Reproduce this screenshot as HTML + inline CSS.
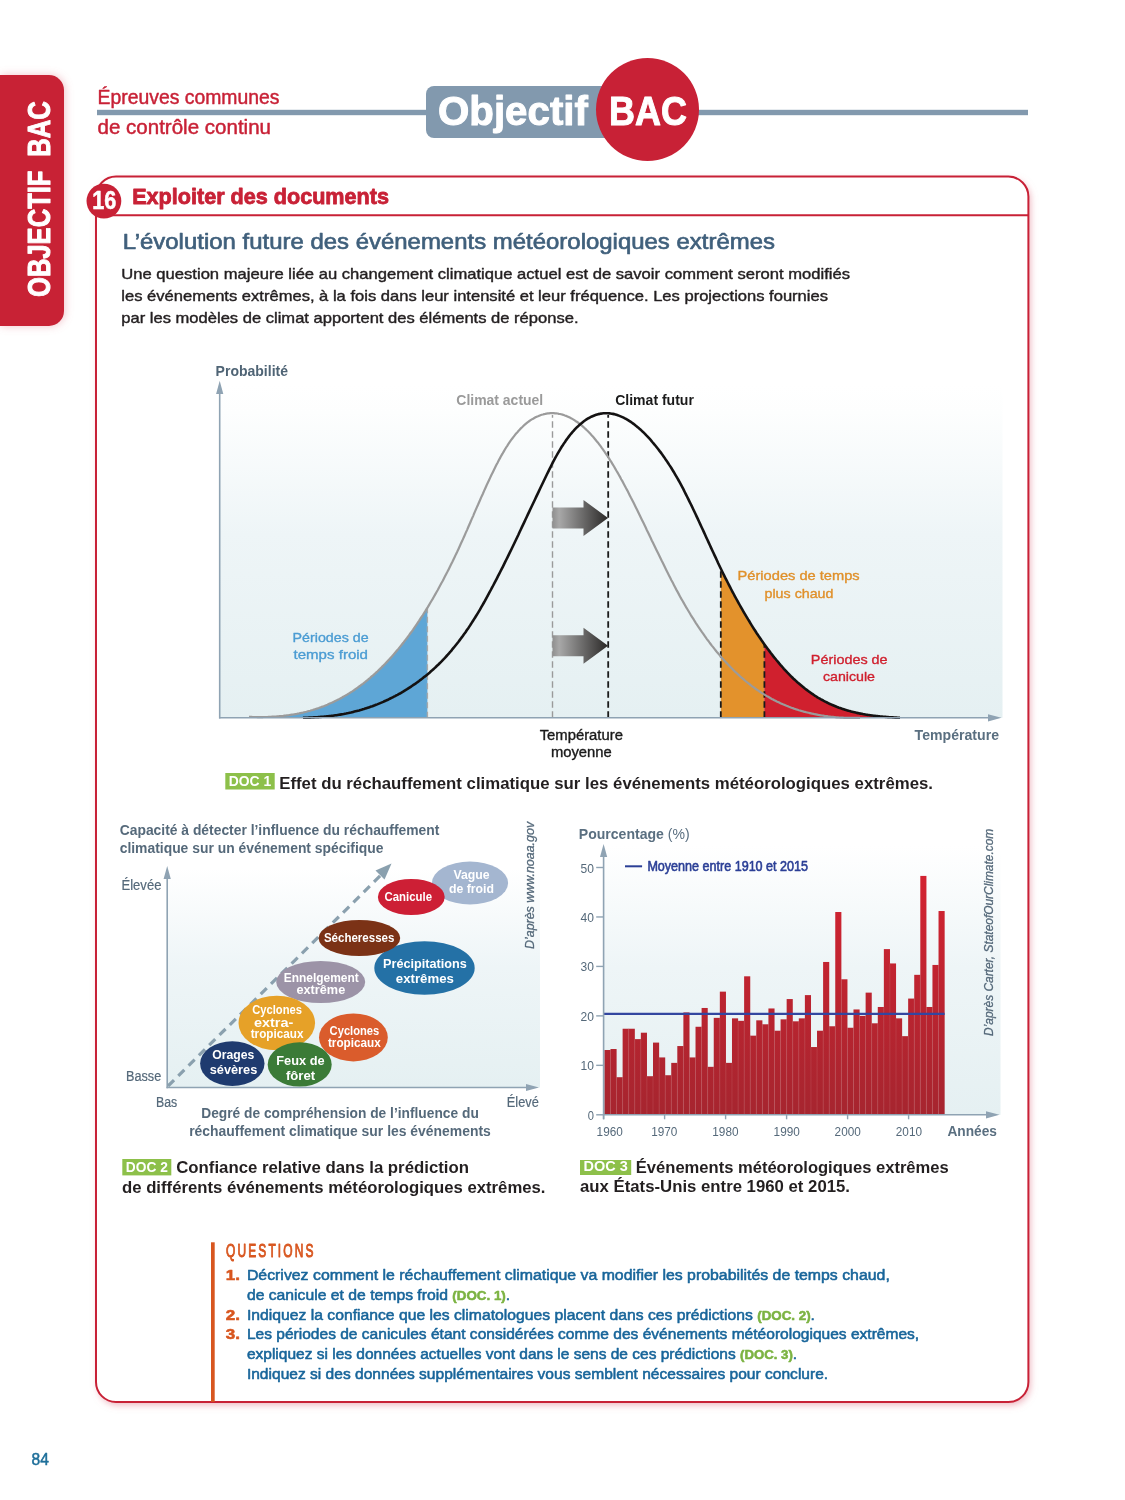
<!DOCTYPE html>
<html lang="fr"><head><meta charset="utf-8"><title>Objectif BAC - Exploiter des documents</title>
<style>
html,body{margin:0;padding:0;background:#fff;}
body{width:1125px;height:1500px;overflow:hidden;position:relative;font-family:"Liberation Sans",sans-serif;}
svg{position:absolute;left:0;top:0;display:block;will-change:transform;}
svg text{font-kerning:normal;}
</style></head><body>
<svg width="1125" height="1500" viewBox="0 0 1125 1500" font-family="Liberation Sans, sans-serif">
<defs>
<filter id="psh" x="-10%" y="-10%" width="120%" height="120%"><feDropShadow dx="2" dy="3" stdDeviation="3.5" flood-color="#e07888" flood-opacity="0.55"/></filter>
<filter id="tsh" x="-30%" y="-10%" width="160%" height="120%"><feDropShadow dx="1" dy="0" stdDeviation="4" flood-color="#e07888" flood-opacity="0.45"/></filter>
<linearGradient id="bg1" x1="0" y1="0" x2="0" y2="1"><stop offset="0" stop-color="#ffffff"/><stop offset="0.08" stop-color="#fdfefe"/><stop offset="0.45" stop-color="#eef5f7"/><stop offset="1" stop-color="#e5f0f2"/></linearGradient>
<linearGradient id="bg2" x1="0" y1="0" x2="0" y2="1"><stop offset="0" stop-color="#ffffff"/><stop offset="0.45" stop-color="#eef5f7"/><stop offset="1" stop-color="#e5f0f2"/></linearGradient>
<linearGradient id="bg3" x1="0" y1="0" x2="0" y2="1"><stop offset="0" stop-color="#ffffff"/><stop offset="0.45" stop-color="#eef5f7"/><stop offset="1" stop-color="#e5f0f2"/></linearGradient>
<linearGradient id="arr" x1="0" y1="0" x2="1" y2="0"><stop offset="0" stop-color="#8f8f8f"/><stop offset="0.12" stop-color="#a8a8a8"/><stop offset="1" stop-color="#2a2827"/></linearGradient>
<linearGradient id="bar" gradientUnits="userSpaceOnUse" x1="0" y1="870" x2="0" y2="1115"><stop offset="0" stop-color="#d42331"/><stop offset="1" stop-color="#a6252f"/></linearGradient>
</defs>
<path d="M0 75 H49 a15 15 0 0 1 15 15 V311 a15 15 0 0 1 -15 15 H0 Z" fill="#c82136" filter="url(#tsh)"/>
<g transform="translate(49.6 297) rotate(-90)"><text x="0" y="0" font-size="31.5" textLength="126.5" lengthAdjust="spacingAndGlyphs" font-weight="bold" fill="#fff" stroke="#fff" stroke-width="1" stroke-linejoin="round">OBJECTIF</text></g>
<g transform="translate(49.6 156.7) rotate(-90)"><text x="0" y="0" font-size="31.5" textLength="55.49" lengthAdjust="spacingAndGlyphs" font-weight="bold" fill="#fff" stroke="#fff" stroke-width="1" stroke-linejoin="round">BAC</text></g>
<rect x="97" y="109.8" width="931" height="5.4" fill="#8299ae"/>
<rect x="426" y="86" width="200" height="52" rx="8" fill="#8299ae"/>
<circle cx="647.5" cy="109.5" r="51.5" fill="#c82136"/>
<text x="97.5" y="103.8" font-size="20" textLength="182" lengthAdjust="spacingAndGlyphs" font-weight="normal" fill="#c82136" stroke="#c82136" stroke-width="0.45" stroke-linejoin="round">Épreuves communes</text>
<text x="97.5" y="134.1" font-size="20" textLength="173.5" lengthAdjust="spacingAndGlyphs" font-weight="normal" fill="#c82136" stroke="#c82136" stroke-width="0.45" stroke-linejoin="round">de contrôle continu</text>
<text x="438" y="125" font-size="40.5" textLength="149.91" lengthAdjust="spacingAndGlyphs" font-weight="bold" fill="#fff" stroke="#fff" stroke-width="1" stroke-linejoin="round">Objectif</text>
<text x="609" y="125.2" font-size="41.5" textLength="77.98" lengthAdjust="spacingAndGlyphs" font-weight="bold" fill="#fff" stroke="#fff" stroke-width="1" stroke-linejoin="round">BAC</text>
<rect x="96" y="176.6" width="932.4" height="1225.4" rx="20" fill="#fff" filter="url(#psh)"/>
<rect x="96" y="176.6" width="932.4" height="1225.4" rx="20" fill="none" stroke="#c82136" stroke-width="2"/>
<line x1="104" y1="215.3" x2="1028" y2="215.3" stroke="#c82136" stroke-width="2"/>
<circle cx="103.9" cy="201.1" r="17.4" fill="#c82136"/>
<text x="92.2" y="208.7" font-size="26" textLength="24.01" lengthAdjust="spacingAndGlyphs" font-weight="bold" fill="#fff" stroke="#fff" stroke-width="0.6" stroke-linejoin="round">16</text>
<text x="132.2" y="203.8" font-size="21.4" textLength="256.79" lengthAdjust="spacingAndGlyphs" font-weight="bold" fill="#c82136" stroke="#c82136" stroke-width="0.8" stroke-linejoin="round">Exploiter des documents</text>
<text x="122.7" y="249.4" font-size="21.4" textLength="652.31" lengthAdjust="spacingAndGlyphs" font-weight="normal" fill="#40607c" stroke="#40607c" stroke-width="0.65" stroke-linejoin="round">L’évolution future des événements météorologiques extrêmes</text>
<text x="121.3" y="279.3" font-size="14.6" textLength="728.71" lengthAdjust="spacingAndGlyphs" font-weight="normal" fill="#231f20" stroke="#231f20" stroke-width="0.4" stroke-linejoin="round">Une question majeure liée au changement climatique actuel est de savoir comment seront modifiés</text>
<text x="121.3" y="301" font-size="14.6" textLength="706.7" lengthAdjust="spacingAndGlyphs" font-weight="normal" fill="#231f20" stroke="#231f20" stroke-width="0.4" stroke-linejoin="round">les événements extrêmes, à la fois dans leur intensité et leur fréquence. Les projections fournies</text>
<text x="121.3" y="323" font-size="14.6" textLength="457.2" lengthAdjust="spacingAndGlyphs" font-weight="normal" fill="#231f20" stroke="#231f20" stroke-width="0.4" stroke-linejoin="round">par les modèles de climat apportent des éléments de réponse.</text>
<rect x="220" y="385" width="782.5" height="332.8" fill="url(#bg1)"/>
<polygon points="249,717.8 249.0,716.9 249.9,716.9 250.8,716.9 251.7,716.9 252.6,717.0 253.5,717.0 254.4,717.0 255.3,717.0 256.2,717.0 257.1,717.0 258.0,717.1 258.9,717.1 259.8,717.1 260.7,717.1 261.6,717.1 262.4,717.1 263.3,717.0 264.2,717.0 265.1,717.0 266.0,717.0 266.9,717.0 267.8,716.9 268.7,716.9 269.6,716.9 270.5,716.8 271.4,716.8 272.3,716.7 273.2,716.7 274.1,716.6 275.0,716.6 275.9,716.5 276.8,716.5 277.7,716.4 278.6,716.3 279.5,716.2 280.4,716.2 281.3,716.1 282.2,716.0 283.1,715.9 284.0,715.8 284.9,715.7 285.8,715.6 286.7,715.5 287.5,715.3 288.4,715.2 289.3,715.1 290.2,715.0 291.1,714.8 292.0,714.7 292.9,714.5 293.8,714.4 294.7,714.2 295.6,714.1 296.5,713.9 297.4,713.7 298.3,713.5 299.2,713.4 300.1,713.2 301.0,713.0 301.9,712.8 302.8,712.6 303.7,712.4 304.6,712.2 305.5,711.9 306.4,711.7 307.3,711.5 308.2,711.2 309.1,711.0 310.0,710.8 310.9,710.5 311.8,710.2 312.7,710.0 313.5,709.7 314.4,709.4 315.3,709.1 316.2,708.8 317.1,708.5 318.0,708.2 318.9,707.9 319.8,707.6 320.7,707.3 321.6,706.9 322.5,706.6 323.4,706.3 324.3,705.9 325.2,705.6 326.1,705.2 327.0,704.8 327.9,704.4 328.8,704.1 329.7,703.7 330.6,703.3 331.5,702.9 332.4,702.5 333.3,702.0 334.2,701.6 335.1,701.2 336.0,700.7 336.9,700.3 337.8,699.8 338.6,699.4 339.5,698.9 340.4,698.4 341.3,697.9 342.2,697.4 343.1,696.9 344.0,696.4 344.9,695.9 345.8,695.4 346.7,694.8 347.6,694.3 348.5,693.7 349.4,693.2 350.3,692.6 351.2,692.0 352.1,691.5 353.0,690.9 353.9,690.3 354.8,689.7 355.7,689.0 356.6,688.4 357.5,687.8 358.4,687.1 359.3,686.5 360.2,685.8 361.1,685.2 362.0,684.5 362.9,683.8 363.7,683.1 364.6,682.4 365.5,681.7 366.4,681.0 367.3,680.2 368.2,679.5 369.1,678.7 370.0,678.0 370.9,677.2 371.8,676.4 372.7,675.6 373.6,674.8 374.5,674.0 375.4,673.2 376.3,672.4 377.2,671.6 378.1,670.7 379.0,669.9 379.9,669.0 380.8,668.1 381.7,667.2 382.6,666.3 383.5,665.4 384.4,664.5 385.3,663.6 386.2,662.7 387.1,661.7 388.0,660.8 388.9,659.8 389.7,658.8 390.6,657.8 391.5,656.8 392.4,655.8 393.3,654.8 394.2,653.8 395.1,652.7 396.0,651.7 396.9,650.6 397.8,649.5 398.7,648.5 399.6,647.4 400.5,646.3 401.4,645.1 402.3,644.0 403.2,642.9 404.1,641.7 405.0,640.6 405.9,639.4 406.8,638.2 407.7,637.0 408.6,635.8 409.5,634.6 410.4,633.4 411.3,632.1 412.2,630.9 413.1,629.6 414.0,628.3 414.8,627.0 415.7,625.7 416.6,624.4 417.5,623.1 418.4,621.8 419.3,620.4 420.2,619.0 421.1,617.7 422.0,616.3 422.9,614.9 423.8,613.5 424.7,612.1 425.6,610.6 426.5,609.2 427.4,607.7 427.4,717.8" fill="#5ea6d6"/>
<polygon points="720.8,717.8 720.8,568.6 721.4,569.7 721.9,570.8 722.5,572.0 723.0,573.1 723.6,574.2 724.1,575.3 724.7,576.4 725.2,577.6 725.8,578.7 726.3,579.8 726.9,580.8 727.4,581.9 728.0,583.0 728.5,584.1 729.1,585.2 729.6,586.2 730.2,587.3 730.7,588.4 731.3,589.4 731.8,590.5 732.4,591.5 732.9,592.6 733.5,593.6 734.0,594.6 734.6,595.6 735.1,596.7 735.7,597.7 736.2,598.7 736.8,599.7 737.3,600.7 737.9,601.7 738.4,602.7 739.0,603.7 739.5,604.7 740.1,605.7 740.6,606.6 741.2,607.6 741.7,608.6 742.3,609.5 742.8,610.5 743.4,611.4 743.9,612.4 744.5,613.3 745.0,614.3 745.6,615.2 746.1,616.1 746.7,617.1 747.2,618.0 747.8,618.9 748.3,619.8 748.9,620.7 749.4,621.6 750.0,622.5 750.5,623.4 751.1,624.3 751.6,625.2 752.2,626.0 752.7,626.9 753.3,627.8 753.8,628.7 754.4,629.5 754.9,630.4 755.5,631.2 756.0,632.1 756.6,632.9 757.1,633.7 757.7,634.6 758.2,635.4 758.8,636.2 759.3,637.0 759.9,637.8 760.4,638.7 761.0,639.5 761.5,640.3 762.1,641.1 762.6,641.8 763.2,642.6 763.7,643.4 764.3,644.2 764.3,717.8" fill="#e3922c"/>
<polygon points="764.3,717.8 764.3,644.2 765.2,645.5 766.1,646.7 767.0,648.0 767.9,649.2 768.9,650.4 769.8,651.6 770.7,652.8 771.6,654.0 772.5,655.2 773.4,656.3 774.3,657.5 775.2,658.6 776.1,659.7 777.1,660.8 778.0,661.9 778.9,663.0 779.8,664.1 780.7,665.1 781.6,666.2 782.5,667.2 783.4,668.2 784.3,669.2 785.2,670.2 786.2,671.2 787.1,672.2 788.0,673.1 788.9,674.1 789.8,675.0 790.7,675.9 791.6,676.8 792.5,677.7 793.4,678.6 794.4,679.4 795.3,680.3 796.2,681.1 797.1,682.0 798.0,682.8 798.9,683.6 799.8,684.4 800.7,685.1 801.6,685.9 802.6,686.7 803.5,687.4 804.4,688.1 805.3,688.8 806.2,689.5 807.1,690.2 808.0,690.9 808.9,691.6 809.8,692.2 810.7,692.9 811.7,693.5 812.6,694.1 813.5,694.7 814.4,695.3 815.3,695.9 816.2,696.5 817.1,697.1 818.0,697.6 818.9,698.1 819.9,698.7 820.8,699.2 821.7,699.7 822.6,700.2 823.5,700.7 824.4,701.2 825.3,701.7 826.2,702.1 827.1,702.6 828.1,703.0 829.0,703.5 829.9,703.9 830.8,704.3 831.7,704.7 832.6,705.1 833.5,705.5 834.4,705.9 835.3,706.3 836.2,706.6 837.2,707.0 838.1,707.3 839.0,707.7 839.9,708.0 840.8,708.3 841.7,708.6 842.6,708.9 843.5,709.2 844.4,709.5 845.4,709.8 846.3,710.1 847.2,710.4 848.1,710.6 849.0,710.9 849.9,711.1 850.8,711.4 851.7,711.6 852.6,711.9 853.6,712.1 854.5,712.3 855.4,712.5 856.3,712.7 857.2,712.9 858.1,713.1 859.0,713.3 859.9,713.5 860.8,713.7 861.7,713.8 862.7,714.0 863.6,714.2 864.5,714.3 865.4,714.5 866.3,714.6 867.2,714.8 868.1,714.9 869.0,715.1 869.9,715.2 870.9,715.3 871.8,715.4 872.7,715.6 873.6,715.7 874.5,715.8 875.4,715.9 876.3,716.0 877.2,716.1 878.1,716.2 879.1,716.3 880.0,716.4 880.9,716.5 881.8,716.6 882.7,716.6 883.6,716.7 884.5,716.8 885.4,716.9 886.3,717.0 887.2,717.0 888.2,717.1 889.1,717.2 890.0,717.2 890.9,717.3 891.8,717.4 892.7,717.4 893.6,717.5 894.5,717.5 895.4,717.6 896.4,717.6 897.3,717.7 898.2,717.8 899.1,717.8 900.0,717.8 900,717.8" fill="#d0202e"/>
<line x1="427.4" y1="717.8" x2="427.4" y2="607.71" stroke="#a9a9a9" stroke-width="1.4" stroke-dasharray="6 3.5"/>
<line x1="552.5" y1="717.8" x2="552.5" y2="415" stroke="#9a9a9a" stroke-width="1.4" stroke-dasharray="6.5 3.5"/>
<line x1="608.2" y1="717.8" x2="608.2" y2="415" stroke="#1a1a1a" stroke-width="1.8" stroke-dasharray="6.5 3.5"/>
<line x1="720.8" y1="717.8" x2="720.8" y2="568.58" stroke="#1a1a1a" stroke-width="1.8" stroke-dasharray="6.5 3.5"/>
<line x1="764.4" y1="717.8" x2="764.4" y2="644.32" stroke="#1a1a1a" stroke-width="1.8" stroke-dasharray="6.5 3.5"/>
<polyline points="249.0,716.9 250.2,716.9 251.4,716.9 252.7,717.0 253.9,717.0 255.1,717.0 256.3,717.0 257.6,717.1 258.8,717.1 260.0,717.1 261.2,717.1 262.5,717.1 263.7,717.0 264.9,717.0 266.1,717.0 267.4,717.0 268.6,716.9 269.8,716.9 271.0,716.8 272.3,716.7 273.5,716.7 274.7,716.6 275.9,716.5 277.2,716.4 278.4,716.3 279.6,716.2 280.8,716.1 282.1,716.0 283.3,715.9 284.5,715.7 285.7,715.6 287.0,715.4 288.2,715.3 289.4,715.1 290.6,714.9 291.9,714.7 293.1,714.5 294.3,714.3 295.5,714.1 296.8,713.9 298.0,713.6 299.2,713.4 300.4,713.1 301.7,712.8 302.9,712.6 304.1,712.3 305.3,712.0 306.5,711.7 307.8,711.3 309.0,711.0 310.2,710.7 311.4,710.3 312.7,710.0 313.9,709.6 315.1,709.2 316.3,708.8 317.6,708.4 318.8,708.0 320.0,707.5 321.2,707.1 322.5,706.6 323.7,706.2 324.9,705.7 326.1,705.2 327.4,704.7 328.6,704.1 329.8,703.6 331.0,703.1 332.3,702.5 333.5,701.9 334.7,701.3 335.9,700.7 337.2,700.1 338.4,699.5 339.6,698.9 340.8,698.2 342.1,697.5 343.3,696.8 344.5,696.1 345.7,695.4 347.0,694.7 348.2,693.9 349.4,693.2 350.6,692.4 351.9,691.6 353.1,690.8 354.3,690.0 355.5,689.1 356.8,688.3 358.0,687.4 359.2,686.5 360.4,685.6 361.6,684.7 362.9,683.8 364.1,682.8 365.3,681.9 366.5,680.9 367.8,679.9 369.0,678.8 370.2,677.8 371.4,676.7 372.7,675.7 373.9,674.6 375.1,673.5 376.3,672.4 377.6,671.2 378.8,670.0 380.0,668.9 381.2,667.7 382.5,666.4 383.7,665.2 384.9,664.0 386.1,662.7 387.4,661.4 388.6,660.1 389.8,658.7 391.0,657.4 392.3,656.0 393.5,654.6 394.7,653.2 395.9,651.8 397.2,650.3 398.4,648.9 399.6,647.4 400.8,645.9 402.1,644.3 403.3,642.8 404.5,641.2 405.7,639.6 407.0,638.0 408.2,636.3 409.4,634.7 410.6,633.0 411.9,631.3 413.1,629.6 414.3,627.8 415.5,626.0 416.7,624.3 418.0,622.4 419.2,620.6 420.4,618.7 421.6,616.9 422.9,615.0 424.1,613.0 425.3,611.1 426.5,609.1 427.8,607.1 429.0,605.1 430.2,603.0 431.4,601.0 432.7,598.9 433.9,596.8 435.1,594.6 436.3,592.5 437.6,590.3 438.8,588.0 440.0,585.8 441.2,583.5 442.5,581.3 443.7,578.9 444.9,576.6 446.1,574.2 447.4,571.8 448.6,569.4 449.8,567.0 451.0,564.5 452.3,562.0 453.5,559.5 454.7,557.0 455.9,554.4 457.2,551.8 458.4,549.2 459.6,546.5 460.8,543.8 462.1,541.1 463.3,538.4 464.5,535.7 465.7,532.9 467.0,530.1 468.2,527.3 469.4,524.5 470.6,521.7 471.8,518.9 473.1,516.1 474.3,513.2 475.5,510.4 476.7,507.6 478.0,504.8 479.2,502.0 480.4,499.2 481.6,496.4 482.9,493.7 484.1,490.9 485.3,488.2 486.5,485.5 487.8,482.8 489.0,480.2 490.2,477.6 491.4,475.0 492.7,472.4 493.9,469.9 495.1,467.5 496.3,465.1 497.6,462.7 498.8,460.3 500.0,458.1 501.2,455.8 502.5,453.7 503.7,451.6 504.9,449.5 506.1,447.5 507.4,445.6 508.6,443.7 509.8,441.9 511.0,440.2 512.3,438.5 513.5,436.9 514.7,435.3 515.9,433.8 517.2,432.4 518.4,431.0 519.6,429.7 520.8,428.4 522.1,427.2 523.3,426.0 524.5,424.9 525.7,423.9 526.9,422.9 528.2,421.9 529.4,421.0 530.6,420.2 531.8,419.4 533.1,418.7 534.3,418.0 535.5,417.3 536.7,416.7 538.0,416.2 539.2,415.7 540.4,415.2 541.6,414.8 542.9,414.5 544.1,414.1 545.3,413.9 546.5,413.6 547.8,413.4 549.0,413.3 550.2,413.2 551.4,413.2 552.7,413.1 553.9,413.2 555.1,413.3 556.3,413.4 557.6,413.5 558.8,413.8 560.0,414.0 561.2,414.3 562.5,414.6 563.7,415.0 564.9,415.5 566.1,415.9 567.4,416.4 568.6,417.0 569.8,417.6 571.0,418.2 572.3,418.9 573.5,419.6 574.7,420.4 575.9,421.2 577.2,422.0 578.4,422.9 579.6,423.9 580.8,424.8 582.1,425.9 583.3,426.9 584.5,428.0 585.7,429.1 586.9,430.3 588.2,431.5 589.4,432.8 590.6,434.1 591.8,435.4 593.1,436.8 594.3,438.2 595.5,439.7 596.7,441.2 598.0,442.7 599.2,444.3 600.4,445.9 601.6,447.6 602.9,449.3 604.1,451.0 605.3,452.8 606.5,454.6 607.8,456.5 609.0,458.4 610.2,460.3 611.4,462.2 612.7,464.3 613.9,466.3 615.1,468.4 616.3,470.5 617.6,472.6 618.8,474.7 620.0,476.9 621.2,479.2 622.5,481.4 623.7,483.7 624.9,486.0 626.1,488.3 627.4,490.6 628.6,493.0 629.8,495.4 631.0,497.8 632.3,500.2 633.5,502.6 634.7,505.1 635.9,507.5 637.2,510.0 638.4,512.5 639.6,515.0 640.8,517.5 642.0,520.0 643.3,522.6 644.5,525.1 645.7,527.6 646.9,530.2 648.2,532.7 649.4,535.3 650.6,537.8 651.8,540.4 653.1,542.9 654.3,545.4 655.5,548.0 656.7,550.5 658.0,553.1 659.2,555.6 660.4,558.1 661.6,560.6 662.9,563.1 664.1,565.6 665.3,568.1 666.5,570.5 667.8,573.0 669.0,575.4 670.2,577.8 671.4,580.2 672.7,582.6 673.9,584.9 675.1,587.3 676.3,589.6 677.6,591.9 678.8,594.1 680.0,596.4 681.2,598.6 682.5,600.8 683.7,602.9 684.9,605.0 686.1,607.1 687.4,609.2 688.6,611.3 689.8,613.3 691.0,615.3 692.3,617.3 693.5,619.2 694.7,621.2 695.9,623.1 697.1,624.9 698.4,626.8 699.6,628.6 700.8,630.4 702.0,632.2 703.3,633.9 704.5,635.7 705.7,637.4 706.9,639.1 708.2,640.7 709.4,642.4 710.6,644.0 711.8,645.6 713.1,647.1 714.3,648.7 715.5,650.2 716.7,651.7 718.0,653.2 719.2,654.6 720.4,656.1 721.6,657.5 722.9,658.9 724.1,660.2 725.3,661.6 726.5,662.9 727.8,664.2 729.0,665.5 730.2,666.8 731.4,668.0 732.7,669.3 733.9,670.5 735.1,671.7 736.3,672.8 737.6,674.0 738.8,675.1 740.0,676.2 741.2,677.3 742.5,678.4 743.7,679.4 744.9,680.5 746.1,681.5 747.4,682.5 748.6,683.5 749.8,684.4 751.0,685.4 752.2,686.3 753.5,687.2 754.7,688.1 755.9,689.0 757.1,689.8 758.4,690.7 759.6,691.5 760.8,692.3 762.0,693.1 763.3,693.9 764.5,694.6 765.7,695.4 766.9,696.1 768.2,696.8 769.4,697.5 770.6,698.2 771.8,698.9 773.1,699.5 774.3,700.2 775.5,700.8 776.7,701.4 778.0,702.0 779.2,702.6 780.4,703.2 781.6,703.7 782.9,704.3 784.1,704.8 785.3,705.3 786.5,705.8 787.8,706.3 789.0,706.8 790.2,707.2 791.4,707.7 792.7,708.1 793.9,708.6 795.1,709.0 796.3,709.4 797.6,709.8 798.8,710.2 800.0,710.5 801.2,710.9 802.5,711.2 803.7,711.6 804.9,711.9 806.1,712.2 807.3,712.5 808.6,712.8 809.8,713.1 811.0,713.4 812.2,713.7 813.5,713.9 814.7,714.2 815.9,714.4 817.1,714.6 818.4,714.9 819.6,715.1 820.8,715.3 822.0,715.5 823.3,715.7 824.5,715.9 825.7,716.0 826.9,716.2 828.2,716.4 829.4,716.5 830.6,716.7 831.8,716.8 833.1,716.9 834.3,717.0 835.5,717.2 836.7,717.3 838.0,717.4 839.2,717.5 840.4,717.6 841.6,717.7 842.9,717.7 844.1,717.8 845.3,717.8 846.5,717.8 847.8,717.8 849.0,717.8 850.2,717.8 851.4,717.8 852.7,717.8 853.9,717.8 855.1,717.8 856.3,717.8 857.6,717.8 858.8,717.8 860.0,717.8" fill="none" stroke="#9b9b9b" stroke-width="2.2"/>
<polyline points="303.0,717.8 304.2,717.7 305.4,717.7 306.6,717.7 307.8,717.7 309.0,717.6 310.2,717.6 311.4,717.5 312.6,717.5 313.8,717.4 315.0,717.3 316.2,717.3 317.4,717.2 318.6,717.1 319.7,717.0 320.9,716.9 322.1,716.8 323.3,716.7 324.5,716.6 325.7,716.5 326.9,716.4 328.1,716.3 329.3,716.1 330.5,716.0 331.7,715.8 332.9,715.7 334.1,715.5 335.3,715.3 336.5,715.2 337.7,715.0 338.9,714.8 340.1,714.6 341.3,714.4 342.5,714.2 343.7,714.0 344.9,713.7 346.1,713.5 347.3,713.2 348.5,713.0 349.7,712.7 350.9,712.5 352.1,712.2 353.2,711.9 354.4,711.6 355.6,711.3 356.8,711.0 358.0,710.7 359.2,710.4 360.4,710.0 361.6,709.7 362.8,709.3 364.0,709.0 365.2,708.6 366.4,708.2 367.6,707.8 368.8,707.4 370.0,707.0 371.2,706.6 372.4,706.2 373.6,705.7 374.8,705.3 376.0,704.8 377.2,704.4 378.4,703.9 379.6,703.4 380.8,702.9 382.0,702.4 383.2,701.9 384.4,701.3 385.6,700.8 386.7,700.2 387.9,699.7 389.1,699.1 390.3,698.5 391.5,697.9 392.7,697.3 393.9,696.7 395.1,696.1 396.3,695.4 397.5,694.8 398.7,694.1 399.9,693.5 401.1,692.8 402.3,692.1 403.5,691.4 404.7,690.6 405.9,689.9 407.1,689.2 408.3,688.4 409.5,687.6 410.7,686.8 411.9,686.0 413.1,685.2 414.3,684.4 415.5,683.6 416.7,682.7 417.9,681.9 419.1,681.0 420.2,680.1 421.4,679.2 422.6,678.3 423.8,677.3 425.0,676.4 426.2,675.4 427.4,674.4 428.6,673.4 429.8,672.4 431.0,671.3 432.2,670.3 433.4,669.2 434.6,668.1 435.8,667.0 437.0,665.8 438.2,664.7 439.4,663.5 440.6,662.3 441.8,661.1 443.0,659.8 444.2,658.6 445.4,657.3 446.6,656.0 447.8,654.7 449.0,653.3 450.2,652.0 451.4,650.6 452.5,649.1 453.7,647.7 454.9,646.2 456.1,644.7 457.3,643.2 458.5,641.7 459.7,640.1 460.9,638.5 462.1,636.9 463.3,635.2 464.5,633.6 465.7,631.9 466.9,630.1 468.1,628.4 469.3,626.6 470.5,624.8 471.7,622.9 472.9,621.0 474.1,619.1 475.3,617.2 476.5,615.3 477.7,613.3 478.9,611.3 480.1,609.3 481.3,607.2 482.5,605.1 483.7,603.0 484.9,600.9 486.0,598.8 487.2,596.6 488.4,594.4 489.6,592.2 490.8,590.0 492.0,587.7 493.2,585.5 494.4,583.2 495.6,580.9 496.8,578.6 498.0,576.2 499.2,573.9 500.4,571.5 501.6,569.2 502.8,566.8 504.0,564.4 505.2,561.9 506.4,559.5 507.6,557.1 508.8,554.6 510.0,552.2 511.2,549.7 512.4,547.2 513.6,544.7 514.8,542.2 516.0,539.7 517.2,537.2 518.4,534.7 519.5,532.2 520.7,529.7 521.9,527.1 523.1,524.6 524.3,522.1 525.5,519.5 526.7,517.0 527.9,514.4 529.1,511.9 530.3,509.3 531.5,506.8 532.7,504.3 533.9,501.7 535.1,499.2 536.3,496.6 537.5,494.1 538.7,491.6 539.9,489.0 541.1,486.5 542.3,484.0 543.5,481.5 544.7,479.0 545.9,476.5 547.1,474.0 548.3,471.6 549.5,469.2 550.7,466.8 551.8,464.5 553.0,462.1 554.2,459.9 555.4,457.7 556.6,455.5 557.8,453.4 559.0,451.3 560.2,449.3 561.4,447.3 562.6,445.5 563.8,443.6 565.0,441.9 566.2,440.1 567.4,438.5 568.6,436.9 569.8,435.3 571.0,433.8 572.2,432.4 573.4,431.0 574.6,429.7 575.8,428.4 577.0,427.2 578.2,426.1 579.4,425.0 580.6,423.9 581.8,422.9 583.0,421.9 584.2,421.0 585.3,420.2 586.5,419.4 587.7,418.6 588.9,418.0 590.1,417.3 591.3,416.7 592.5,416.2 593.7,415.7 594.9,415.2 596.1,414.8 597.3,414.4 598.5,414.1 599.7,413.9 600.9,413.6 602.1,413.5 603.3,413.3 604.5,413.3 605.7,413.2 606.9,413.2 608.1,413.3 609.3,413.4 610.5,413.5 611.7,413.7 612.9,413.9 614.1,414.1 615.3,414.4 616.5,414.8 617.7,415.2 618.8,415.6 620.0,416.1 621.2,416.6 622.4,417.1 623.6,417.7 624.8,418.3 626.0,418.9 627.2,419.6 628.4,420.3 629.6,421.1 630.8,421.9 632.0,422.7 633.2,423.6 634.4,424.5 635.6,425.5 636.8,426.4 638.0,427.4 639.2,428.5 640.4,429.5 641.6,430.6 642.8,431.8 644.0,432.9 645.2,434.1 646.4,435.4 647.6,436.6 648.8,437.9 650.0,439.2 651.2,440.6 652.3,442.0 653.5,443.4 654.7,444.8 655.9,446.3 657.1,447.8 658.3,449.3 659.5,450.9 660.7,452.4 661.9,454.1 663.1,455.7 664.3,457.4 665.5,459.2 666.7,460.9 667.9,462.7 669.1,464.6 670.3,466.4 671.5,468.3 672.7,470.3 673.9,472.2 675.1,474.3 676.3,476.3 677.5,478.4 678.7,480.5 679.9,482.7 681.1,484.9 682.3,487.1 683.5,489.4 684.6,491.7 685.8,494.1 687.0,496.5 688.2,498.9 689.4,501.3 690.6,503.8 691.8,506.2 693.0,508.7 694.2,511.3 695.4,513.8 696.6,516.4 697.8,518.9 699.0,521.5 700.2,524.1 701.4,526.7 702.6,529.3 703.8,531.9 705.0,534.5 706.2,537.2 707.4,539.8 708.6,542.4 709.8,545.0 711.0,547.6 712.2,550.2 713.4,552.8 714.6,555.4 715.8,557.9 717.0,560.5 718.1,563.0 719.3,565.5 720.5,568.0 721.7,570.5 722.9,573.0 724.1,575.4 725.3,577.8 726.5,580.2 727.7,582.5 728.9,584.9 730.1,587.2 731.3,589.5 732.5,591.8 733.7,594.0 734.9,596.3 736.1,598.5 737.3,600.7 738.5,602.8 739.7,605.0 740.9,607.1 742.1,609.2 743.3,611.3 744.5,613.3 745.7,615.4 746.9,617.4 748.1,619.4 749.3,621.3 750.5,623.3 751.6,625.2 752.8,627.1 754.0,629.0 755.2,630.8 756.4,632.7 757.6,634.5 758.8,636.3 760.0,638.0 761.2,639.8 762.4,641.5 763.6,643.2 764.8,644.9 766.0,646.6 767.2,648.2 768.4,649.8 769.6,651.4 770.8,653.0 772.0,654.5 773.2,656.1 774.4,657.6 775.6,659.0 776.8,660.5 778.0,661.9 779.2,663.4 780.4,664.8 781.6,666.1 782.8,667.5 783.9,668.8 785.1,670.1 786.3,671.4 787.5,672.7 788.7,673.9 789.9,675.1 791.1,676.3 792.3,677.5 793.5,678.7 794.7,679.8 795.9,680.9 797.1,682.0 798.3,683.1 799.5,684.1 800.7,685.1 801.9,686.1 803.1,687.1 804.3,688.1 805.5,689.0 806.7,689.9 807.9,690.8 809.1,691.7 810.3,692.5 811.5,693.4 812.7,694.2 813.9,695.0 815.1,695.8 816.3,696.5 817.4,697.3 818.6,698.0 819.8,698.7 821.0,699.4 822.2,700.0 823.4,700.7 824.6,701.3 825.8,701.9 827.0,702.5 828.2,703.1 829.4,703.7 830.6,704.2 831.8,704.8 833.0,705.3 834.2,705.8 835.4,706.3 836.6,706.8 837.8,707.2 839.0,707.7 840.2,708.1 841.4,708.5 842.6,708.9 843.8,709.3 845.0,709.7 846.2,710.1 847.4,710.4 848.6,710.8 849.8,711.1 850.9,711.4 852.1,711.7 853.3,712.0 854.5,712.3 855.7,712.6 856.9,712.9 858.1,713.1 859.3,713.4 860.5,713.6 861.7,713.8 862.9,714.1 864.1,714.3 865.3,714.5 866.5,714.7 867.7,714.9 868.9,715.0 870.1,715.2 871.3,715.4 872.5,715.5 873.7,715.7 874.9,715.8 876.1,716.0 877.3,716.1 878.5,716.2 879.7,716.4 880.9,716.5 882.1,716.6 883.3,716.7 884.4,716.8 885.6,716.9 886.8,717.0 888.0,717.1 889.2,717.2 890.4,717.3 891.6,717.3 892.8,717.4 894.0,717.5 895.2,717.6 896.4,717.6 897.6,717.7 898.8,717.8 900.0,717.8" fill="none" stroke="#141212" stroke-width="2.6"/>
<path d="M552.5 507.5 H583.5 V500 L608 518 L583.5 536 V528.5 H552.5 Z" fill="url(#arr)"/>
<path d="M552.5 635.2 H583.5 V627.7 L608 645.7 L583.5 663.7 V656.2 H552.5 Z" fill="url(#arr)"/>
<line x1="219.7" y1="718.6" x2="219.7" y2="392" stroke="#8fa3b3" stroke-width="1.6"/>
<path d="M219.7 380.8 L223.3 394 L216.1 394 Z" fill="#8fa3b3"/>
<line x1="219" y1="717.8" x2="990" y2="717.8" stroke="#8fa3b3" stroke-width="1.6"/>
<path d="M1001.5 717.8 L988 714.2 L988 721.4 Z" fill="#8fa3b3"/>
<text x="215.6" y="375.6" font-size="13.8" textLength="72.39" lengthAdjust="spacingAndGlyphs" font-weight="bold" fill="#4f6475">Probabilité</text>
<text x="456.3" y="404.5" font-size="14.5" textLength="86.9" lengthAdjust="spacingAndGlyphs" font-weight="bold" fill="#9a9a9a">Climat actuel</text>
<text x="615.2" y="404.5" font-size="14.5" textLength="78.7" lengthAdjust="spacingAndGlyphs" font-weight="bold" fill="#1a1a1a">Climat futur</text>
<text x="292.6" y="641.8" font-size="13.5" textLength="76" lengthAdjust="spacingAndGlyphs" font-weight="normal" fill="#4b9cd3" stroke="#4b9cd3" stroke-width="0.35" stroke-linejoin="round">Périodes de</text>
<text x="293.5" y="658.9" font-size="13.5" textLength="74.5" lengthAdjust="spacingAndGlyphs" font-weight="normal" fill="#4b9cd3" stroke="#4b9cd3" stroke-width="0.35" stroke-linejoin="round">temps froid</text>
<text x="737.6" y="580.1" font-size="13.5" textLength="122" lengthAdjust="spacingAndGlyphs" font-weight="normal" fill="#e0902a" stroke="#e0902a" stroke-width="0.35" stroke-linejoin="round">Périodes de temps</text>
<text x="764.5" y="597.8" font-size="13.5" textLength="69" lengthAdjust="spacingAndGlyphs" font-weight="normal" fill="#e0902a" stroke="#e0902a" stroke-width="0.35" stroke-linejoin="round">plus chaud</text>
<text x="810.8" y="663.5" font-size="13.5" textLength="76.8" lengthAdjust="spacingAndGlyphs" font-weight="normal" fill="#d0202e" stroke="#d0202e" stroke-width="0.35" stroke-linejoin="round">Périodes de</text>
<text x="822.9" y="680.9" font-size="13.5" textLength="52.1" lengthAdjust="spacingAndGlyphs" font-weight="normal" fill="#d0202e" stroke="#d0202e" stroke-width="0.35" stroke-linejoin="round">canicule</text>
<text x="539.7" y="739.5" font-size="13.8" textLength="83.2" lengthAdjust="spacingAndGlyphs" font-weight="normal" fill="#1a1a1a" stroke="#1a1a1a" stroke-width="0.35" stroke-linejoin="round">Température</text>
<text x="550.9" y="756.6" font-size="13.8" textLength="60.8" lengthAdjust="spacingAndGlyphs" font-weight="normal" fill="#1a1a1a" stroke="#1a1a1a" stroke-width="0.35" stroke-linejoin="round">moyenne</text>
<text x="914.6" y="740" font-size="14.2" textLength="84.41" lengthAdjust="spacingAndGlyphs" font-weight="bold" fill="#5a6f80">Température</text>
<rect x="225.3" y="773" width="49.4" height="16.5" fill="#8dc04a"/>
<text x="228.8" y="785.9" font-size="14" textLength="42.4" lengthAdjust="spacingAndGlyphs" font-weight="bold" fill="#fff">DOC 1</text>
<text x="279.2" y="789" font-size="16.4" textLength="653.8" lengthAdjust="spacingAndGlyphs" font-weight="bold" fill="#231f20">Effet du réchauffement climatique sur les événements météorologiques extrêmes.</text>
<rect x="167" y="868" width="373" height="219.5" fill="url(#bg2)"/>
<line x1="167.2" y1="1088.3" x2="167.2" y2="877" stroke="#8fa3b3" stroke-width="1.6"/>
<path d="M167.2 866 L170.8 879 L163.6 879 Z" fill="#8fa3b3"/>
<line x1="166.5" y1="1087.5" x2="528" y2="1087.5" stroke="#8fa3b3" stroke-width="1.6"/>
<path d="M539 1087.5 L526 1083.9 L526 1091.1 Z" fill="#8fa3b3"/>
<line x1="168" y1="1086" x2="381" y2="875" stroke="#8aa0ae" stroke-width="3.2" stroke-dasharray="8.5 6"/>
<path d="M391.5 863.5 L375.5 870.5 L384.5 879.5 Z" fill="#8aa0ae"/>
<ellipse cx="470" cy="883" rx="38.1" ry="21.5" fill="#a4b6d0"/>
<ellipse cx="411.3" cy="897" rx="33.4" ry="18.1" fill="#cd1f35"/>
<ellipse cx="424.5" cy="968" rx="50.2" ry="26.7" fill="#2471a6"/>
<ellipse cx="359.4" cy="938" rx="40.8" ry="18.1" fill="#7b3216"/>
<ellipse cx="320.7" cy="982" rx="44.5" ry="21.1" fill="#9c93a7"/>
<ellipse cx="353.4" cy="1037.4" rx="34.4" ry="24" fill="#da5c2c"/>
<ellipse cx="276.8" cy="1023" rx="38.3" ry="27.2" fill="#e6a128"/>
<ellipse cx="232.3" cy="1063.6" rx="32.2" ry="22.4" fill="#1f3b6f"/>
<ellipse cx="299.7" cy="1064.4" rx="32" ry="22.2" fill="#3b7b37"/>
<text x="384.5" y="901.2" font-size="13.5" textLength="47.5" lengthAdjust="spacingAndGlyphs" font-weight="bold" fill="#fff">Canicule</text>
<text x="453.5" y="879" font-size="13.5" textLength="36.2" lengthAdjust="spacingAndGlyphs" font-weight="bold" fill="#fff">Vague</text>
<text x="449" y="893.4" font-size="13.5" textLength="44.99" lengthAdjust="spacingAndGlyphs" font-weight="bold" fill="#fff">de froid</text>
<text x="323.9" y="941.9" font-size="13.5" textLength="70.5" lengthAdjust="spacingAndGlyphs" font-weight="bold" fill="#fff">Sécheresses</text>
<text x="383.1" y="968.3" font-size="13.5" textLength="83.7" lengthAdjust="spacingAndGlyphs" font-weight="bold" fill="#fff">Précipitations</text>
<text x="395.8" y="983" font-size="13.5" textLength="58.1" lengthAdjust="spacingAndGlyphs" font-weight="bold" fill="#fff">extrêmes</text>
<text x="283.7" y="982" font-size="13.5" textLength="75.1" lengthAdjust="spacingAndGlyphs" font-weight="bold" fill="#fff">Ennelgement</text>
<text x="296.5" y="994.4" font-size="13.5" textLength="48.7" lengthAdjust="spacingAndGlyphs" font-weight="bold" fill="#fff">extrême</text>
<text x="252.2" y="1014" font-size="13.5" textLength="49.7" lengthAdjust="spacingAndGlyphs" font-weight="bold" fill="#fff">Cyclones</text>
<text x="253.9" y="1026.8" font-size="13.5" textLength="39.4" lengthAdjust="spacingAndGlyphs" font-weight="bold" fill="#fff">extra-</text>
<text x="250.7" y="1038.1" font-size="13.5" textLength="52.7" lengthAdjust="spacingAndGlyphs" font-weight="bold" fill="#fff">tropicaux</text>
<text x="329.6" y="1034.7" font-size="13.5" textLength="49.7" lengthAdjust="spacingAndGlyphs" font-weight="bold" fill="#fff">Cyclones</text>
<text x="327.9" y="1046.6" font-size="13.5" textLength="52.9" lengthAdjust="spacingAndGlyphs" font-weight="bold" fill="#fff">tropicaux</text>
<text x="212.3" y="1059.2" font-size="13.5" textLength="42" lengthAdjust="spacingAndGlyphs" font-weight="bold" fill="#fff">Orages</text>
<text x="209.7" y="1074.2" font-size="13.5" textLength="47.6" lengthAdjust="spacingAndGlyphs" font-weight="bold" fill="#fff">sévères</text>
<text x="276.3" y="1065.2" font-size="13.5" textLength="48.4" lengthAdjust="spacingAndGlyphs" font-weight="bold" fill="#fff">Feux de</text>
<text x="285.9" y="1080.1" font-size="13.5" textLength="29.2" lengthAdjust="spacingAndGlyphs" font-weight="bold" fill="#fff">fôret</text>
<text x="119.7" y="834.6" font-size="14.5" textLength="319.7" lengthAdjust="spacingAndGlyphs" font-weight="bold" fill="#55697a">Capacité à détecter l’influence du réchauffement</text>
<text x="119.7" y="852.8" font-size="14.5" textLength="263.81" lengthAdjust="spacingAndGlyphs" font-weight="bold" fill="#55697a">climatique sur un événement spécifique</text>
<text x="121.5" y="890" font-size="14" textLength="39.9" lengthAdjust="spacingAndGlyphs" font-weight="normal" fill="#55697a" stroke="#55697a" stroke-width="0.2" stroke-linejoin="round">Élevée</text>
<text x="126" y="1080.8" font-size="14" textLength="35.2" lengthAdjust="spacingAndGlyphs" font-weight="normal" fill="#55697a" stroke="#55697a" stroke-width="0.2" stroke-linejoin="round">Basse</text>
<text x="156" y="1107.2" font-size="14" textLength="21.2" lengthAdjust="spacingAndGlyphs" font-weight="normal" fill="#55697a" stroke="#55697a" stroke-width="0.2" stroke-linejoin="round">Bas</text>
<text x="506.8" y="1107" font-size="14" textLength="32.01" lengthAdjust="spacingAndGlyphs" font-weight="normal" fill="#55697a" stroke="#55697a" stroke-width="0.2" stroke-linejoin="round">Élevé</text>
<text x="201.2" y="1118" font-size="14.5" textLength="277.61" lengthAdjust="spacingAndGlyphs" font-weight="bold" fill="#55697a">Degré de compréhension de l’influence du</text>
<text x="189.2" y="1136" font-size="14.5" textLength="301.6" lengthAdjust="spacingAndGlyphs" font-weight="bold" fill="#55697a">réchauffement climatique sur les événements</text>
<g transform="translate(534 949) rotate(-90)"><text x="0" y="0" font-size="13" textLength="127.1" lengthAdjust="spacingAndGlyphs" font-weight="normal" font-style="italic" fill="#55697a" stroke="#55697a" stroke-width="0.3" stroke-linejoin="round">D’après www.noaa.gov</text></g>
<rect x="604" y="846" width="396.5" height="268.8" fill="url(#bg3)"/>
<g fill="url(#bar)"><rect x="604.4" y="1050.01" width="6.13" height="64.79"/><rect x="610.48" y="1049.02" width="6.13" height="65.78"/><rect x="616.55" y="1077.21" width="6.13" height="37.59"/><rect x="622.62" y="1028.74" width="6.13" height="86.06"/><rect x="628.7" y="1028.74" width="6.13" height="86.06"/><rect x="634.77" y="1039.13" width="6.13" height="75.67"/><rect x="640.85" y="1032.7" width="6.13" height="82.1"/><rect x="646.92" y="1076.22" width="6.13" height="38.58"/><rect x="653" y="1042.59" width="6.13" height="72.21"/><rect x="659.08" y="1057.43" width="6.13" height="57.37"/><rect x="665.15" y="1075.23" width="6.13" height="39.57"/><rect x="671.23" y="1062.87" width="6.13" height="51.93"/><rect x="677.3" y="1046.05" width="6.13" height="68.75"/><rect x="683.38" y="1012.42" width="6.13" height="102.38"/><rect x="689.45" y="1057.43" width="6.13" height="57.37"/><rect x="695.52" y="1026.76" width="6.13" height="88.04"/><rect x="701.6" y="1007.97" width="6.13" height="106.83"/><rect x="707.67" y="1066.82" width="6.13" height="47.98"/><rect x="713.75" y="1017.86" width="6.13" height="96.94"/><rect x="719.83" y="991.64" width="6.13" height="123.16"/><rect x="725.9" y="1062.87" width="6.13" height="51.93"/><rect x="731.98" y="1018.35" width="6.13" height="96.45"/><rect x="738.05" y="1020.83" width="6.13" height="93.97"/><rect x="744.12" y="976.31" width="6.13" height="138.49"/><rect x="750.2" y="1035.66" width="6.13" height="79.14"/><rect x="756.27" y="1020.33" width="6.13" height="94.47"/><rect x="762.35" y="1024.29" width="6.13" height="90.51"/><rect x="768.42" y="1008.46" width="6.13" height="106.34"/><rect x="774.5" y="1030.72" width="6.13" height="84.08"/><rect x="780.58" y="1019.34" width="6.13" height="95.46"/><rect x="786.65" y="999.06" width="6.13" height="115.74"/><rect x="792.73" y="1021.32" width="6.13" height="93.48"/><rect x="798.8" y="1018.35" width="6.13" height="96.45"/><rect x="804.88" y="995.11" width="6.13" height="119.69"/><rect x="810.95" y="1047.04" width="6.13" height="67.76"/><rect x="817.02" y="1030.72" width="6.13" height="84.08"/><rect x="823.1" y="961.97" width="6.13" height="152.83"/><rect x="829.17" y="1026.27" width="6.13" height="88.53"/><rect x="835.25" y="912.01" width="6.13" height="202.79"/><rect x="841.33" y="979.28" width="6.13" height="135.52"/><rect x="847.4" y="1027.75" width="6.13" height="87.05"/><rect x="853.48" y="1009.45" width="6.13" height="105.35"/><rect x="859.55" y="1015.88" width="6.13" height="98.92"/><rect x="865.62" y="992.63" width="6.13" height="122.17"/><rect x="871.7" y="1023.3" width="6.13" height="91.5"/><rect x="877.78" y="1006.98" width="6.13" height="107.82"/><rect x="883.85" y="949.11" width="6.13" height="165.69"/><rect x="889.92" y="963.45" width="6.13" height="151.35"/><rect x="896" y="1018.35" width="6.13" height="96.45"/><rect x="902.08" y="1036.16" width="6.13" height="78.64"/><rect x="908.15" y="998.57" width="6.13" height="116.23"/><rect x="914.23" y="974.83" width="6.13" height="139.97"/><rect x="920.3" y="875.91" width="6.13" height="238.89"/><rect x="926.38" y="1006.98" width="6.13" height="107.82"/><rect x="932.45" y="964.94" width="6.13" height="149.86"/><rect x="938.53" y="911.02" width="6.13" height="203.78"/></g>
<path d="M610.48 1114.8V1050.01 M616.55 1114.8V1077.21 M622.62 1114.8V1077.21 M628.7 1114.8V1028.74 M634.77 1114.8V1039.13 M640.85 1114.8V1039.13 M646.92 1114.8V1076.22 M653 1114.8V1076.22 M659.08 1114.8V1057.43 M665.15 1114.8V1075.23 M671.23 1114.8V1075.23 M677.3 1114.8V1062.87 M683.38 1114.8V1046.05 M689.45 1114.8V1057.43 M695.52 1114.8V1057.43 M701.6 1114.8V1026.76 M707.67 1114.8V1066.82 M713.75 1114.8V1066.82 M719.83 1114.8V1017.86 M725.9 1114.8V1062.87 M731.98 1114.8V1062.87 M738.05 1114.8V1020.83 M744.12 1114.8V1020.83 M750.2 1114.8V1035.66 M756.27 1114.8V1035.66 M762.35 1114.8V1024.29 M768.42 1114.8V1024.29 M774.5 1114.8V1030.72 M780.58 1114.8V1030.72 M786.65 1114.8V1019.34 M792.73 1114.8V1021.32 M798.8 1114.8V1021.32 M804.88 1114.8V1018.35 M810.95 1114.8V1047.04 M817.02 1114.8V1047.04 M823.1 1114.8V1030.72 M829.17 1114.8V1026.27 M835.25 1114.8V1026.27 M841.33 1114.8V979.28 M847.4 1114.8V1027.75 M853.48 1114.8V1027.75 M859.55 1114.8V1015.88 M865.62 1114.8V1015.88 M871.7 1114.8V1023.3 M877.78 1114.8V1023.3 M883.85 1114.8V1006.98 M889.92 1114.8V963.45 M896 1114.8V1018.35 M902.08 1114.8V1036.16 M908.15 1114.8V1036.16 M914.23 1114.8V998.57 M920.3 1114.8V974.83 M926.38 1114.8V1006.98 M932.45 1114.8V1006.98 M938.53 1114.8V964.94" stroke="#c0565d" stroke-width="0.6" opacity="0.7"/>
<line x1="604" y1="1013.9" x2="944.6" y2="1013.9" stroke="#3346a0" stroke-width="2.2"/>
<line x1="603.6" y1="1119.3" x2="603.6" y2="855" stroke="#8fa3b3" stroke-width="1.6"/>
<path d="M603.6 843.9 L607.2 857 L600 857 Z" fill="#8fa3b3"/>
<line x1="603" y1="1114.8" x2="988" y2="1114.8" stroke="#8fa3b3" stroke-width="1.6"/>
<path d="M999.5 1114.8 L986 1111.2 L986 1118.4 Z" fill="#8fa3b3"/>
<line x1="596.2" y1="1114.8" x2="603.6" y2="1114.8" stroke="#8fa3b3" stroke-width="1.4"/>
<text x="587.7" y="1119.8" font-size="13.5" textLength="6.2" lengthAdjust="spacingAndGlyphs" font-weight="normal" fill="#55697a">0</text>
<line x1="596.2" y1="1065.34" x2="603.6" y2="1065.34" stroke="#8fa3b3" stroke-width="1.4"/>
<text x="580.5" y="1070.34" font-size="13.5" textLength="13.4" lengthAdjust="spacingAndGlyphs" font-weight="normal" fill="#55697a">10</text>
<line x1="596.2" y1="1015.88" x2="603.6" y2="1015.88" stroke="#8fa3b3" stroke-width="1.4"/>
<text x="580.5" y="1020.88" font-size="13.5" textLength="13.4" lengthAdjust="spacingAndGlyphs" font-weight="normal" fill="#55697a">20</text>
<line x1="596.2" y1="966.42" x2="603.6" y2="966.42" stroke="#8fa3b3" stroke-width="1.4"/>
<text x="580.5" y="971.42" font-size="13.5" textLength="13.4" lengthAdjust="spacingAndGlyphs" font-weight="normal" fill="#55697a">30</text>
<line x1="596.2" y1="916.96" x2="603.6" y2="916.96" stroke="#8fa3b3" stroke-width="1.4"/>
<text x="580.5" y="921.96" font-size="13.5" textLength="13.4" lengthAdjust="spacingAndGlyphs" font-weight="normal" fill="#55697a">40</text>
<line x1="596.2" y1="867.5" x2="603.6" y2="867.5" stroke="#8fa3b3" stroke-width="1.4"/>
<text x="580.5" y="872.5" font-size="13.5" textLength="13.4" lengthAdjust="spacingAndGlyphs" font-weight="normal" fill="#55697a">50</text>
<line x1="603.6" y1="1114.8" x2="603.6" y2="1119.3" stroke="#8fa3b3" stroke-width="1.4"/>
<text x="596.6" y="1136" font-size="13.5" textLength="26.2" lengthAdjust="spacingAndGlyphs" font-weight="normal" fill="#55697a">1960</text>
<line x1="664.6" y1="1114.8" x2="664.6" y2="1119.3" stroke="#8fa3b3" stroke-width="1.4"/>
<text x="651.2" y="1136" font-size="13.5" textLength="26.2" lengthAdjust="spacingAndGlyphs" font-weight="normal" fill="#55697a">1970</text>
<line x1="725.6" y1="1114.8" x2="725.6" y2="1119.3" stroke="#8fa3b3" stroke-width="1.4"/>
<text x="712.3" y="1136" font-size="13.5" textLength="26.2" lengthAdjust="spacingAndGlyphs" font-weight="normal" fill="#55697a">1980</text>
<line x1="786.6" y1="1114.8" x2="786.6" y2="1119.3" stroke="#8fa3b3" stroke-width="1.4"/>
<text x="773.6" y="1136" font-size="13.5" textLength="26.2" lengthAdjust="spacingAndGlyphs" font-weight="normal" fill="#55697a">1990</text>
<line x1="847.6" y1="1114.8" x2="847.6" y2="1119.3" stroke="#8fa3b3" stroke-width="1.4"/>
<text x="834.6" y="1136" font-size="13.5" textLength="26.2" lengthAdjust="spacingAndGlyphs" font-weight="normal" fill="#55697a">2000</text>
<line x1="908.6" y1="1114.8" x2="908.6" y2="1119.3" stroke="#8fa3b3" stroke-width="1.4"/>
<text x="895.8" y="1136" font-size="13.5" textLength="26.2" lengthAdjust="spacingAndGlyphs" font-weight="normal" fill="#55697a">2010</text>
<text x="947.4" y="1136" font-size="15.5" textLength="49.6" lengthAdjust="spacingAndGlyphs" font-weight="bold" fill="#5a6f80">Années</text>
<text x="578.8" y="839.3" font-size="14" textLength="110.9" lengthAdjust="spacingAndGlyphs"><tspan font-weight="bold" font-size="14" fill="#5a6f80">Pourcentage</tspan><tspan font-weight="normal" font-size="14" fill="#5a6f80"> (%)</tspan></text>
<line x1="625" y1="866.3" x2="642.1" y2="866.3" stroke="#2b3f96" stroke-width="2"/>
<text x="647.4" y="870.5" font-size="13.8" textLength="160.6" lengthAdjust="spacingAndGlyphs" font-weight="normal" fill="#2b3f96" stroke="#2b3f96" stroke-width="0.6" stroke-linejoin="round">Moyenne entre 1910 et 2015</text>
<g transform="translate(993 1035.9) rotate(-90)"><text x="0" y="0" font-size="13" textLength="207.1" lengthAdjust="spacingAndGlyphs" font-weight="normal" font-style="italic" fill="#55697a" stroke="#55697a" stroke-width="0.3" stroke-linejoin="round">D’après Carter, StateofOurClimate.com</text></g>
<rect x="122.3" y="1159" width="49" height="16.4" fill="#8dc04a"/>
<text x="125.8" y="1171.8" font-size="14" textLength="42" lengthAdjust="spacingAndGlyphs" font-weight="bold" fill="#fff">DOC 2</text>
<text x="176.2" y="1172.5" font-size="16.4" textLength="292.8" lengthAdjust="spacingAndGlyphs" font-weight="bold" fill="#231f20">Confiance relative dans la prédiction</text>
<text x="122" y="1193" font-size="16.4" textLength="423.5" lengthAdjust="spacingAndGlyphs" font-weight="bold" fill="#231f20">de différents événements météorologiques extrêmes.</text>
<rect x="580" y="1160" width="51.2" height="15" fill="#8dc04a"/>
<text x="583.5" y="1171.4" font-size="14" textLength="44.2" lengthAdjust="spacingAndGlyphs" font-weight="bold" fill="#fff">DOC 3</text>
<text x="635.8" y="1173" font-size="16.4" textLength="312.9" lengthAdjust="spacingAndGlyphs" font-weight="bold" fill="#231f20">Événements météorologiques extrêmes</text>
<text x="580" y="1192" font-size="16.4" textLength="270" lengthAdjust="spacingAndGlyphs" font-weight="bold" fill="#231f20">aux États-Unis entre 1960 et 2015.</text>
<rect x="211" y="1242.3" width="3.7" height="159.5" fill="#d8561f"/>
<g transform="translate(226 0) scale(0.63 1) translate(-226 0)"><text x="226" y="1257.3" font-size="19" textLength="138.88" lengthAdjust="spacing" font-weight="normal" fill="#d8561f" stroke="#d8561f" stroke-width="1" stroke-linejoin="round">QUESTIONS</text></g>
<text x="225.8" y="1279.9" font-size="15.5" textLength="14.2" lengthAdjust="spacingAndGlyphs" font-weight="bold" fill="#d8561f" stroke="#d8561f" stroke-width="0.6" stroke-linejoin="round">1.</text>
<text x="225.8" y="1319.5" font-size="15.5" textLength="14.2" lengthAdjust="spacingAndGlyphs" font-weight="bold" fill="#d8561f" stroke="#d8561f" stroke-width="0.6" stroke-linejoin="round">2.</text>
<text x="225.8" y="1339.4" font-size="15.5" textLength="14.2" lengthAdjust="spacingAndGlyphs" font-weight="bold" fill="#d8561f" stroke="#d8561f" stroke-width="0.6" stroke-linejoin="round">3.</text>
<text x="246.9" y="1279.9" font-size="15.2" textLength="642.91" lengthAdjust="spacingAndGlyphs" font-weight="normal" fill="#18659a" stroke="#18659a" stroke-width="0.55" stroke-linejoin="round">Décrivez comment le réchauffement climatique va modifier les probabilités de temps chaud,</text>
<text x="246.9" y="1299.5" font-size="15.2" textLength="263.3" lengthAdjust="spacingAndGlyphs" stroke-width="0.55" stroke-linejoin="round"><tspan font-weight="normal" font-size="15.2" fill="#18659a" stroke="#18659a">de canicule et de temps froid </tspan><tspan font-weight="bold" font-size="12.92" fill="#7cb342" stroke="#7cb342">(DOC. 1)</tspan><tspan font-weight="normal" font-size="15.2" fill="#18659a" stroke="#18659a">.</tspan></text>
<text x="246.9" y="1319.5" font-size="15.2" textLength="568.1" lengthAdjust="spacingAndGlyphs" stroke-width="0.55" stroke-linejoin="round"><tspan font-weight="normal" font-size="15.2" fill="#18659a" stroke="#18659a">Indiquez la confiance que les climatologues placent dans ces prédictions </tspan><tspan font-weight="bold" font-size="12.92" fill="#7cb342" stroke="#7cb342">(DOC. 2)</tspan><tspan font-weight="normal" font-size="15.2" fill="#18659a" stroke="#18659a">.</tspan></text>
<text x="246.9" y="1339.4" font-size="15.2" textLength="672.3" lengthAdjust="spacingAndGlyphs" font-weight="normal" fill="#18659a" stroke="#18659a" stroke-width="0.55" stroke-linejoin="round">Les périodes de canicules étant considérées comme des événements météorologiques extrêmes,</text>
<text x="246.9" y="1359" font-size="15.2" textLength="550.2" lengthAdjust="spacingAndGlyphs" stroke-width="0.55" stroke-linejoin="round"><tspan font-weight="normal" font-size="15.2" fill="#18659a" stroke="#18659a">expliquez si les données actuelles vont dans le sens de ces prédictions </tspan><tspan font-weight="bold" font-size="12.92" fill="#7cb342" stroke="#7cb342">(DOC. 3)</tspan><tspan font-weight="normal" font-size="15.2" fill="#18659a" stroke="#18659a">.</tspan></text>
<text x="246.9" y="1379" font-size="15.2" textLength="581.3" lengthAdjust="spacingAndGlyphs" font-weight="normal" fill="#18659a" stroke="#18659a" stroke-width="0.55" stroke-linejoin="round">Indiquez si des données supplémentaires vous semblent nécessaires pour conclure.</text>
<text x="31.5" y="1464.8" font-size="16" textLength="17.3" lengthAdjust="spacingAndGlyphs" font-weight="normal" fill="#1e6f9a" stroke="#1e6f9a" stroke-width="0.5" stroke-linejoin="round">84</text>
</svg>
</body></html>
